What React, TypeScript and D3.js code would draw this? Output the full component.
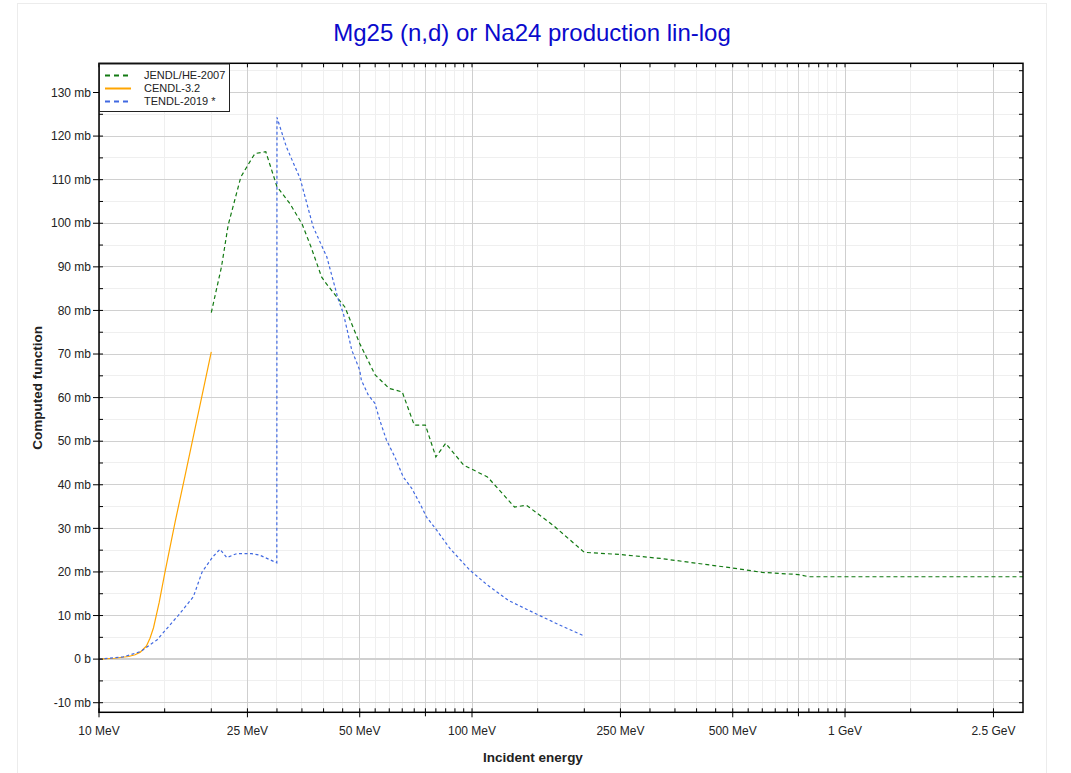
import * as d3 from 'd3';
import React from 'react';

const WIDTH = 1071;
const HEIGHT = 773;
const PLOT = { left: 99, right: 1023, top: 63.3, bottom: 712.3 };
const FONT = '"Liberation Sans", Arial, sans-serif';

// JENDL/HE-2007 (MeV, mb)
const jendlEnergy = [20, 21.3, 22.2, 24, 25.7, 26.2, 28, 30, 32.5, 35, 37, 39.5, 40.3, 43.4, 45.6, 50, 55, 60, 65, 70, 75, 80, 85, 95, 110, 130, 140, 165, 200, 250, 320, 500, 600, 750, 800, 3000];
const jendlValue = [79.5, 90, 99.6, 110.6, 114.9, 116, 116.4, 108.4, 104.5, 99.9, 94.6, 87.7, 86.6, 83.1, 80.8, 72.4, 65.2, 62.1, 61.3, 53.7, 53.7, 46.4, 49.5, 44.5, 41.8, 34.9, 35.3, 30.7, 24.5, 24, 23.1, 20.9, 19.9, 19.4, 18.9, 18.9];

// CENDL-3.2
const cendlEnergy = [10, 11, 12, 12.5, 12.9, 13.4, 13.7, 14, 14.5, 15, 16, 17, 18, 19, 20];
const cendlValue = [0, 0.2, 0.6, 1.0, 1.6, 3.0, 4.8, 7.2, 13, 19.6, 31.5, 42, 52, 61.5, 70.5];

// TENDL-2019 *
const tendlEnergy = [10, 11.6, 12.9, 14.3, 16.3, 17.9, 18.9, 20.2, 21.1, 22, 23.4, 25.6, 26.9, 29.97, 30, 31.8, 34.6, 37.5, 40.8, 43.8, 45.2, 47.6, 50, 50.5, 52.7, 54.9, 56.6, 59, 62.1, 65.4, 68.9, 72.5, 75.5, 80.4, 87.2, 98.7, 110, 125, 150, 175, 200];
const tendlValue = [0, 0.5, 1.7, 4.4, 10, 14.3, 20, 23.5, 25.2, 23.3, 24.2, 24.2, 23.9, 22.1, 124.3, 117.5, 110.3, 99.2, 92.3, 82.5, 79.3, 70.9, 66.3, 64, 60.6, 58.7, 54.8, 50.2, 46.4, 41.8, 39.2, 35.7, 32.6, 29.6, 25.4, 20.4, 17, 13.5, 10.2, 7.5, 5.3];

const series = [
  { name: 'JENDL/HE-2007', color: '#137a13', dash: '4,3', energy: jendlEnergy, value: jendlValue },
  { name: 'CENDL-3.2', color: '#ffa500', dash: null, energy: cendlEnergy, value: cendlValue },
  { name: 'TENDL-2019 *', color: '#4169e1', dash: '3,2.5', energy: tendlEnergy, value: tendlValue },
];

const xMajorTicks = [10, 25, 50, 100, 250, 500, 1000, 2500];
const xMajorLabels = ['10 MeV', '25 MeV', '50 MeV', '100 MeV', '250 MeV', '500 MeV', '1 GeV', '2.5 GeV'];
const xMediumTicks = [75, 750];
const xMinorTicks = [15, 20, 30, 35, 40, 45, 55, 60, 65, 70, 80, 85, 90, 95, 150, 200, 300, 350, 400, 450, 550, 600, 650, 700, 800, 850, 900, 950, 1500, 2000];

const yMajorTicks = [-10, 0, 10, 20, 30, 40, 50, 60, 70, 80, 90, 100, 110, 120, 130];
const yMinorTicks = [-5, 5, 15, 25, 35, 45, 55, 65, 75, 85, 95, 105, 115, 125, 135];

export default function App() {
  const x = d3.scaleLog().domain([10, 3000]).range([PLOT.left, PLOT.right]);
  const y = d3.scaleLinear().domain([-12.2, 136.7]).range([PLOT.bottom, PLOT.top]);

  const line = d3
    .line<[number, number]>()
    .x(d => x(d[0]))
    .y(d => y(d[1]));

  const yLabel = (v: number) => (v === 0 ? '0 b' : `${v} mb`);

  return (
    <div style={{ position: 'absolute', left: 0, top: 0 }}>
      <svg width={WIDTH} height={HEIGHT} style={{ display: 'block', fontFamily: FONT }}>
        <rect x={0} y={0} width={WIDTH} height={HEIGHT} fill="#fff" />
        <rect x={17.5} y={3.5} width={1029} height={790} fill="none" stroke="#ececec" />

        <defs>
          <clipPath id="plotClip">
            <rect x={PLOT.left} y={PLOT.top} width={PLOT.right - PLOT.left} height={PLOT.bottom - PLOT.top} />
          </clipPath>
        </defs>

        {/* grid */}
        <g shapeRendering="crispEdges">
          {yMinorTicks.map(v => (
            <line key={'ym' + v} x1={PLOT.left} x2={PLOT.right} y1={y(v)} y2={y(v)} stroke="#efefef" />
          ))}
          {xMinorTicks.map(v => (
            <line key={'xm' + v} x1={x(v)} x2={x(v)} y1={PLOT.top} y2={PLOT.bottom} stroke="#efefef" />
          ))}
          {xMediumTicks.map(v => (
            <line key={'xd' + v} x1={x(v)} x2={x(v)} y1={PLOT.top} y2={PLOT.bottom} stroke="#d6d6d6" />
          ))}
          {xMajorTicks.map(v => (
            <line key={'xM' + v} x1={x(v)} x2={x(v)} y1={PLOT.top} y2={PLOT.bottom} stroke="#cfcfcf" />
          ))}
          {yMajorTicks.map(v => (
            <line key={'yM' + v} x1={PLOT.left} x2={PLOT.right} y1={y(v)} y2={y(v)} stroke="#d0d0d0" strokeWidth={v === 0 ? 2 : 1} />
          ))}
        </g>

        {/* curves */}
        <g clipPath="url(#plotClip)" fill="none">
          {series.map(s => (
            <path
              key={s.name}
              d={line(s.energy.map((e, i) => [e, s.value[i]] as [number, number])) || ''}
              stroke={s.color}
              strokeWidth={1.2}
              strokeDasharray={s.dash || undefined}
            />
          ))}
        </g>

        {/* frame */}
        <rect
          x={PLOT.left}
          y={PLOT.top}
          width={PLOT.right - PLOT.left}
          height={PLOT.bottom - PLOT.top}
          fill="none"
          stroke="#000"
          strokeWidth={1.5}
        />

        {/* axes ticks */}
        <g stroke="#000" strokeWidth={1}>
          {yMajorTicks.map(v => (
            <line key={'lt' + v} x1={PLOT.left - 6} x2={PLOT.left + 4} y1={y(v)} y2={y(v)} />
          ))}
          {yMinorTicks.map(v => (
            <line key={'ltm' + v} x1={PLOT.left} x2={PLOT.left + 4} y1={y(v)} y2={y(v)} />
          ))}
          {[...yMajorTicks, ...yMinorTicks].map(v => (
            <line key={'rt' + v} x1={PLOT.right - 4} x2={PLOT.right} y1={y(v)} y2={y(v)} />
          ))}
          {xMajorTicks.map(v => (
            <line key={'bt' + v} x1={x(v)} x2={x(v)} y1={PLOT.bottom - 4} y2={PLOT.bottom + 5} />
          ))}
          {xMediumTicks.map(v => (
            <line key={'btd' + v} x1={x(v)} x2={x(v)} y1={PLOT.bottom - 4} y2={PLOT.bottom + 4} />
          ))}
          {xMinorTicks.map(v => (
            <line key={'btm' + v} x1={x(v)} x2={x(v)} y1={PLOT.bottom - 4} y2={PLOT.bottom} />
          ))}
          {[...xMajorTicks, ...xMediumTicks, ...xMinorTicks].map(v => (
            <line key={'tt' + v} x1={x(v)} x2={x(v)} y1={PLOT.top} y2={PLOT.top + 4} />
          ))}
        </g>

        {/* tick labels */}
        <g fontSize={12} fill="#222">
          {yMajorTicks.map(v => (
            <text key={'yl' + v} x={PLOT.left - 8} y={y(v)} dy="0.35em" textAnchor="end">
              {yLabel(v)}
            </text>
          ))}
          {xMajorTicks.map((v, i) => (
            <text key={'xl' + v} x={x(v)} y={PLOT.bottom + 23} textAnchor="middle">
              {xMajorLabels[i]}
            </text>
          ))}
        </g>

        {/* axis titles */}
        <text x={533} y={762} textAnchor="middle" fontSize={13.5} fontWeight="bold" fill="#222">
          Incident energy
        </text>
        <text
          transform={`translate(42, ${(PLOT.top + PLOT.bottom) / 2}) rotate(-90)`}
          textAnchor="middle"
          fontSize={13.5}
          fontWeight="bold"
          fill="#222"
        >
          Computed function
        </text>

        {/* title */}
        <text x={532} y={41} textAnchor="middle" fontSize={24} fill="#0a0acc">
          Mg25 (n,d) or Na24 production lin-log
        </text>

        {/* legend */}
        <g>
          <rect x={99.5} y={64} width={130} height={47.5} fill="#fff" stroke="#222" strokeWidth={1} />
          {series.map((s, i) => {
            const ly = 75.5 + i * 13;
            return (
              <g key={'lg' + s.name}>
                <line x1={105} x2={131} y1={ly} y2={ly} stroke={s.color} strokeWidth={2} strokeDasharray={s.dash ? '5,4' : undefined} />
                <text x={144} y={ly} dy="0.35em" fontSize={11} fill="#222">
                  {s.name}
                </text>
              </g>
            );
          })}
        </g>
      </svg>
    </div>
  );
}
